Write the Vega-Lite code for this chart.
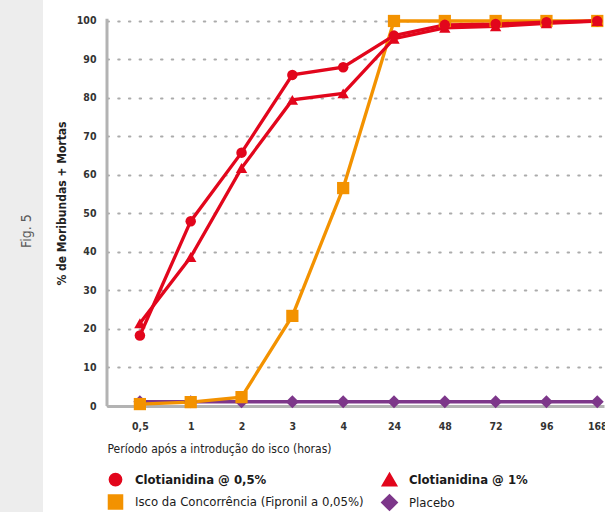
{
  "$schema": "https://vega.github.io/schema/vega-lite/v6.json",
  "padding": 0,
  "background": "white",
  "spacing": 12,
  "bounds": "full",
  "config": {
    "view": {"stroke": null},
    "font": "Liberation Sans Narrow, DejaVu Sans Condensed, sans-serif"
  },
  "resolve": {
    "scale": {"color": "independent", "shape": "independent", "size": "independent", "strokeWidth": "independent"},
    "legend": {"color": "independent", "shape": "independent"}
  },
  "hconcat": [
    {
      "width": 43,
      "height": 512,
      "view": {"fill": "#ededed", "stroke": null},
      "data": {"values": [{"label": "Fig. 5"}]},
      "mark": {"type": "text", "angle": 270, "fontSize": 14, "color": "#5a5a5a", "dx": 25, "dy": 5, "baseline": "middle", "align": "center"},
      "encoding": {"text": {"field": "label"}}
    },
    {
      "width": 497,
      "height": 406,
      "resolve": {"scale": {"x": "independent"}},
      "data": {
        "values": [
          {"serie": "Placebo", "hora": "0,5", "pct": 1.1},
          {"serie": "Placebo", "hora": "1", "pct": 1.1},
          {"serie": "Placebo", "hora": "2", "pct": 1.1},
          {"serie": "Placebo", "hora": "3", "pct": 1.1},
          {"serie": "Placebo", "hora": "4", "pct": 1.1},
          {"serie": "Placebo", "hora": "24", "pct": 1.1},
          {"serie": "Placebo", "hora": "48", "pct": 1.1},
          {"serie": "Placebo", "hora": "72", "pct": 1.1},
          {"serie": "Placebo", "hora": "96", "pct": 1.1},
          {"serie": "Placebo", "hora": "168", "pct": 1.1},
          {"serie": "Isco da Concorrência (Fipronil a 0,05%)", "hora": "0,5", "pct": 0.5},
          {"serie": "Isco da Concorrência (Fipronil a 0,05%)", "hora": "1", "pct": 1.0},
          {"serie": "Isco da Concorrência (Fipronil a 0,05%)", "hora": "2", "pct": 2.3},
          {"serie": "Isco da Concorrência (Fipronil a 0,05%)", "hora": "3", "pct": 23.4},
          {"serie": "Isco da Concorrência (Fipronil a 0,05%)", "hora": "4", "pct": 56.6},
          {"serie": "Isco da Concorrência (Fipronil a 0,05%)", "hora": "24", "pct": 100},
          {"serie": "Isco da Concorrência (Fipronil a 0,05%)", "hora": "48", "pct": 100},
          {"serie": "Isco da Concorrência (Fipronil a 0,05%)", "hora": "72", "pct": 100},
          {"serie": "Isco da Concorrência (Fipronil a 0,05%)", "hora": "96", "pct": 100},
          {"serie": "Isco da Concorrência (Fipronil a 0,05%)", "hora": "168", "pct": 100},
          {"serie": "Clotianidina @ 1%", "hora": "0,5", "pct": 21.5},
          {"serie": "Clotianidina @ 1%", "hora": "1", "pct": 38.7},
          {"serie": "Clotianidina @ 1%", "hora": "2", "pct": 61.8},
          {"serie": "Clotianidina @ 1%", "hora": "3", "pct": 79.5},
          {"serie": "Clotianidina @ 1%", "hora": "4", "pct": 81.2},
          {"serie": "Clotianidina @ 1%", "hora": "24", "pct": 95.4},
          {"serie": "Clotianidina @ 1%", "hora": "48", "pct": 98.2},
          {"serie": "Clotianidina @ 1%", "hora": "72", "pct": 98.6},
          {"serie": "Clotianidina @ 1%", "hora": "96", "pct": 99.4},
          {"serie": "Clotianidina @ 1%", "hora": "168", "pct": 100},
          {"serie": "Clotianidina @ 0,5%", "hora": "0,5", "pct": 18.3},
          {"serie": "Clotianidina @ 0,5%", "hora": "1", "pct": 48},
          {"serie": "Clotianidina @ 0,5%", "hora": "2", "pct": 65.8},
          {"serie": "Clotianidina @ 0,5%", "hora": "3", "pct": 86},
          {"serie": "Clotianidina @ 0,5%", "hora": "4", "pct": 88},
          {"serie": "Clotianidina @ 0,5%", "hora": "24", "pct": 96.2},
          {"serie": "Clotianidina @ 0,5%", "hora": "48", "pct": 99},
          {"serie": "Clotianidina @ 0,5%", "hora": "72", "pct": 99.2},
          {"serie": "Clotianidina @ 0,5%", "hora": "96", "pct": 99.7},
          {"serie": "Clotianidina @ 0,5%", "hora": "168", "pct": 100}
        ]
      },
      "layer": [
        {
          "data": {"values": [{"axis": "y"}]},
          "mark": {"type": "rule", "color": "#b3b3b3", "strokeWidth": 3},
          "encoding": {
            "x": {"datum": 0, "type": "quantitative", "scale": {"domain": [0, 1]}, "axis": null},
            "y": {"datum": 0, "type": "quantitative", "scale": {"domain": [0, 105.45], "nice": false}},
            "y2": {"datum": 100.6}
          }
        },
        {
          "encoding": {
            "x": {
              "field": "hora",
              "type": "ordinal",
              "sort": ["0,5", "1", "2", "3", "4", "24", "48", "72", "96", "168"],
              "scale": {"type": "point", "padding": 0.39, "align": 0.83},
              "axis": {
                "title": "Período após a introdução do isco (horas)",
                "titleAnchor": "start",
                "titleAlign": "left",
                "titleFontSize": 12,
                "titleFontWeight": "normal",
                "titleColor": "#222222",
                "titlePadding": 12,
                "labelAngle": 0,
                "labelFontSize": 10.5,
                "labelFontWeight": "bold",
                "labelColor": "#333333",
                "labelPadding": 15,
                "ticks": false,
                "domainColor": "#b3b3b3",
                "domainWidth": 3,
                "grid": false
              }
            },
            "y": {
              "field": "pct",
              "type": "quantitative",
              "scale": {"domain": [0, 105.45], "nice": false},
              "axis": {
                "title": "% de Moribundas + Mortas",
                "titleFontSize": 12,
                "titleFontWeight": "bold",
                "titleColor": "#222222",
                "titlePadding": 8,
                "values": [0, 10, 20, 30, 40, 50, 60, 70, 80, 90, 100],
                "labelFontSize": 10.5,
                "labelFontWeight": "bold",
                "labelColor": "#333333",
                "labelPadding": 11,
                "ticks": false,
                "domain": false,
                "grid": true,
                "gridColor": "#ababab",
                "gridDash": [1.5, 9.2],
                "gridWidth": 2,
                "gridCap": "round"
              }
            },
            "color": {
              "field": "serie",
              "type": "nominal",
              "scale": {
                "domain": ["Clotianidina @ 0,5%", "Clotianidina @ 1%", "Isco da Concorrência (Fipronil a 0,05%)", "Placebo"],
                "range": ["#e2061c", "#e2061c", "#f39200", "#7d378a"]
              },
              "legend": {
                "title": null,
                "orient": "bottom",
                "columns": 2,
                "offset": 17,
                "labelFontSize": 13,
                "labelColor": "#1a1a1a",
                "labelOffset": 11,
                "labelLimit": 320,
                "columnPadding": 12,
                "rowPadding": -3,
                "symbolSize": 400,
                "symbolStrokeWidth": 2.5,
                "encode": {
                  "labels": {"update": {"fontWeight": {"signal": "indexof(datum.label, 'Clotianidina') >= 0 ? 'bold' : 'normal'"}}}
                }
              }
            }
          },
          "layer": [
            {
              "mark": {"type": "line"},
              "encoding": {
                "strokeWidth": {
                  "field": "serie",
                  "type": "nominal",
                  "scale": {
                    "domain": ["Clotianidina @ 0,5%", "Clotianidina @ 1%", "Isco da Concorrência (Fipronil a 0,05%)", "Placebo"],
                    "range": [3.3, 3.3, 2.7, 2.7]
                  },
                  "legend": null
                }
              }
            },
            {
              "mark": {"type": "point", "filled": true, "opacity": 1},
              "encoding": {
                "shape": {
                  "field": "serie",
                  "type": "nominal",
                  "scale": {
                    "domain": ["Clotianidina @ 0,5%", "Clotianidina @ 1%", "Isco da Concorrência (Fipronil a 0,05%)", "Placebo"],
                    "range": ["circle", "triangle-up", "square", "diamond"]
                  },
                  "legend": {
                    "title": null,
                    "orient": "bottom",
                    "columns": 2,
                    "offset": 17,
                    "labelFontSize": 13,
                    "labelColor": "#1a1a1a",
                    "labelOffset": 11,
                    "labelLimit": 320,
                    "columnPadding": 12,
                    "rowPadding": -3,
                    "symbolSize": 400,
                    "symbolStrokeWidth": 2.5,
                    "encode": {
                      "labels": {"update": {"fontWeight": {"signal": "indexof(datum.label, 'Clotianidina') >= 0 ? 'bold' : 'normal'"}}}
                    }
                  }
                },
                "size": {
                  "field": "serie",
                  "type": "nominal",
                  "scale": {
                    "domain": ["Clotianidina @ 0,5%", "Clotianidina @ 1%", "Isco da Concorrência (Fipronil a 0,05%)", "Placebo"],
                    "range": [110, 170, 121, 160]
                  },
                  "legend": null
                }
              }
            }
          ]
        }
      ]
    }
  ]
}
